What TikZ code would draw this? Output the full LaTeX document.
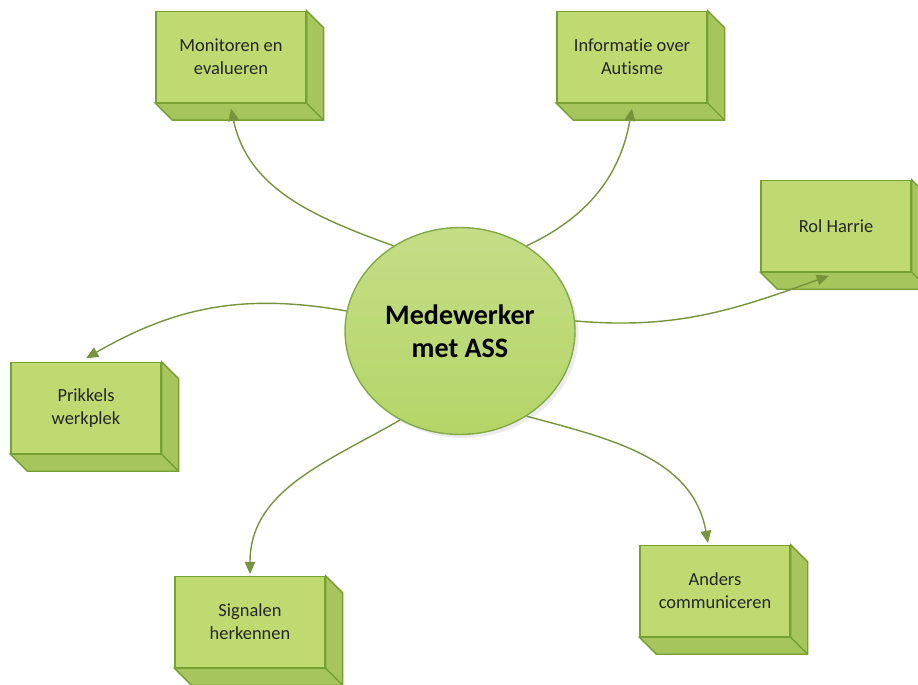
\documentclass[tikz,border=0pt]{standalone}
\usepackage{fontspec}
\setmainfont[Ligatures=NoCommon]{Carlito}
\usetikzlibrary{shapes.geometric,arrows.meta,shadows}

\definecolor{voorgroen}{RGB}{190,218,112}
\definecolor{zijgroen}{RGB}{166,197,92}
\definecolor{randgroen}{RGB}{118,160,50}
\definecolor{pijlgroen}{RGB}{119,147,60}
\definecolor{bolgroen}{RGB}{181,213,104}

\begin{document}
\begin{tikzpicture}[x=0.02cm,y=-0.02cm,
  blok/.style={draw=randgroen,fill=voorgroen,line width=0.8pt,minimum width=3cm,minimum height=1.82cm,align=center,text=black!85,font=\fontsize{10.5}{13}\selectfont},
  pijl/.style={draw=pijlgroen,line width=0.8pt,-{Triangle[length=7pt,width=6pt]}}]
\useasboundingbox (0,0) rectangle (918,684);

\node[ellipse,draw=randgroen!90,line width=0.8pt,top color=bolgroen!80!white,bottom color=bolgroen,drop shadow={shadow xshift=2pt,shadow yshift=-2pt,fill=black!15},minimum width=4.6cm,minimum height=4.14cm,align=center,font=\fontsize{16}{19}\selectfont\bfseries] (mw) at (460,331) {Medewerker\\met ASS};

\node[blok] (mon) at (231,57) {Monitoren en\\evalueren};
\node[blok] (inf) at (632,57) {Informatie over\\Autisme};
\node[blok] (rol) at (836,226) {Rol Harrie};
\node[blok] (prk) at (86,408) {Prikkels\\werkplek};
\node[blok] (sig) at (250,622) {Signalen\\herkennen};
\node[blok] (and) at (715,591) {Anders\\communiceren};

% zijvlakken van de blokken
\foreach \b in {mon,inf,rol,prk,sig,and}{
  \filldraw[fill=zijgroen,draw=randgroen,line width=0.8pt] (\b.north east) -- ++(17,17) -- ([shift={(17,17)}]\b.south east) -- ([shift={(17,17)}]\b.south west) -- (\b.south west) -- (\b.south east) -- cycle;
  \draw[randgroen,line width=0.8pt] (\b.south east) -- ++(17,17);
}

\draw[pijl] (mw.128) to[out=160,in=-78] ([yshift=-3pt]mon.south);
\draw[pijl] (mw.52) to[out=25,in=-100] ([yshift=-3pt]inf.south);
\draw[pijl] (mw.5) to[out=-5,in=200] ([xshift=-4pt,yshift=-2pt]rol.south);
\draw[pijl] (mw.170) to[out=170,in=30] ([yshift=2pt]prk.north);
\draw[pijl] (mw.236) to[out=210,in=90] ([yshift=1pt]sig.north);
\draw[pijl] (mw.308) to[out=-15,in=100] ([xshift=-4pt,yshift=1pt]and.north);

\end{tikzpicture}
\end{document}
